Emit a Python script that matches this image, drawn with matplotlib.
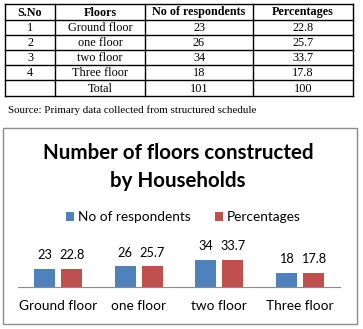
import matplotlib
matplotlib.use('Agg')
import matplotlib.pyplot as plt

# table data
sno = ['1', '2', '3', '4', '']
floors = ['Ground floor', 'one floor', 'two floor', 'Three floor', 'Total']
resp_tab = ['23', '26', '34', '18', '101']
perc_tab = ['22.8', '25.7', '33.7', '17.8', '100']
headers = ['S.No', 'Floors', 'No of respondents', 'Percentages']

# chart data
categories = ['Ground floor', 'one floor', 'two floor', 'Three floor']
respondents = [23, 26, 34, 18]
percentages = [22.8, 25.7, 33.7, 17.8]

W, H = 363, 329
fig = plt.figure(figsize=(W/100, H/100), dpi=100)
fig.patch.set_facecolor('white')

# background axes in pixel coords
bg = fig.add_axes([0, 0, 1, 1])
bg.set_xlim(0, W)
bg.set_ylim(H, 0)
bg.axis('off')

col_x = [5, 55, 145, 253, 353]
row_y = [4, 20, 35, 50, 65, 80, 96]
for x in col_x:
    bg.plot([x, x], [row_y[0], row_y[-1]], color='black', lw=1.0)
for y in row_y:
    bg.plot([col_x[0], col_x[-1]], [y, y], color='black', lw=1.0)

serif = 'Liberation Serif'
for j, h in enumerate(headers):
    cx = (col_x[j] + col_x[j+1]) / 2
    bg.text(cx, (row_y[0] + row_y[1]) / 2 + 0.5, h, ha='center', va='center',
            fontsize=8.7, fontweight='bold', family=serif)
cols = [sno, floors, resp_tab, perc_tab]
for j, col in enumerate(cols):
    cx = (col_x[j] + col_x[j+1]) / 2
    for i, val in enumerate(col):
        cy = (row_y[i+1] + row_y[i+2]) / 2 + 0.5
        bg.text(cx, cy, val, ha='center', va='center', fontsize=8.8, family=serif)

bg.text(8, 110, 'Source: Primary data collected from structured schedule',
        ha='left', va='center', fontsize=7.9, family=serif)

# chart border
bg.add_patch(plt.Rectangle((3, 128), 354, 196, fill=False, edgecolor='#8c8c8c', lw=1.0))

sans = 'Lato'
bg.text(178, 153, 'Number of floors constructed', ha='center', va='center',
        fontsize=14.8, fontweight='bold', family=sans)
bg.text(178, 181, 'by Households', ha='center', va='center',
        fontsize=14.8, fontweight='bold', family=sans)

# bar axes
left, right, base, top = 18, 340, 287, 240
ax = fig.add_axes([left/W, (H-base)/H, (right-left)/W, (base-top)/H])
ax.set_facecolor('none')
scale = 0.8
ax.set_ylim(0, (base-top)/scale)
ax.set_xlim(-0.5, 3.5)
xs = range(len(categories))
w = 0.265
off = 0.168
b1 = ax.bar([x - off for x in xs], respondents, w, color='#4F81BD', label='No of respondents')
b2 = ax.bar([x + off for x in xs], percentages, w, color='#C0504D', label='Percentages')
ax.bar_label(b1, labels=[str(v) for v in respondents], padding=5.5, fontsize=9.2, family=sans)
ax.bar_label(b2, labels=[str(v) for v in percentages], padding=5.5, fontsize=9.2, family=sans)
for s in ['top', 'left', 'right']:
    ax.spines[s].set_visible(False)
ax.spines['bottom'].set_color('#8c8c8c')
ax.set_yticks([])
ax.set_xticks(list(xs))
ax.set_xticklabels(categories, fontsize=9.8, family=sans)
ax.tick_params(axis='x', length=0, pad=9)

fig.legend(handles=[b1, b2], loc='center', bbox_to_anchor=(183/W, 1 - 217/H),
           ncol=2, frameon=False, prop={'family': sans, 'size': 9.8},
           handlelength=0.6, handleheight=0.6, handletextpad=0.25, columnspacing=1.8)

fig.savefig('out.png', dpi=100)
